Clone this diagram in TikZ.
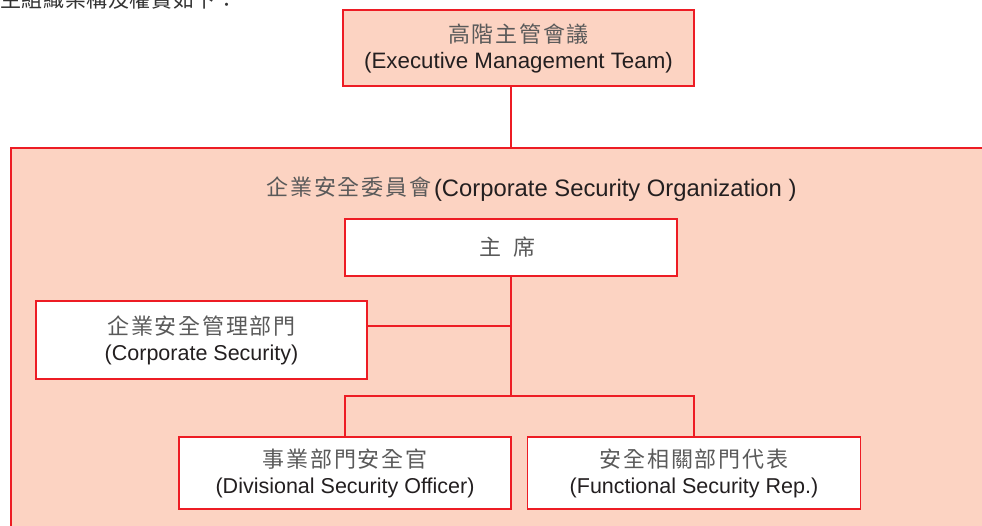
\documentclass[tikz,border=0pt]{standalone}
\usepackage{fontspec}
\setmainfont{Liberation Sans}
\newfontfamily\cjk[LetterSpace=8]{Noto Sans CJK TC}
\newfontfamily\cjkintro[LetterSpace=3]{Noto Sans CJK TC}
\definecolor{orgred}{HTML}{ED1C24}
\definecolor{orgfill}{HTML}{FCD3C2}
\definecolor{txt}{HTML}{231F20}
\definecolor{cjkgray}{HTML}{5A5A5A}
\newcommand{\zh}[1]{{\cjk\fontsize{22}{26}\selectfont\color{cjkgray}#1}}
\tikzset{
  orgbox/.style={draw=orgred, line width=1.8pt, inner sep=0pt, align=center,
    font=\fontsize{21.5}{26}\selectfont, text=txt},
  conn/.style={draw=orgred, line width=1.8pt},
}
\begin{document}
\begin{tikzpicture}[x=1pt,y=-1pt]
\useasboundingbox (0,0) rectangle (982,526);
\fill[white] (0,0) rectangle (982,526);
\clip (0,0) rectangle (982,526);
\node[anchor=base west, inner sep=0pt, text=black!80] (intro) at (0,8)
  {\cjkintro\fontsize{21}{24}\selectfont 主組織架構及權責如下：};
\node[orgbox, fill=orgfill, anchor=north west, minimum width=990pt, minimum height=400pt] (org) at (10,147) {};
\node[orgbox, fill=orgfill, minimum width=351pt, minimum height=76pt,
  font=\fontsize{22.3}{26}\selectfont] (top) at (518.5,48)
  {\zh{高階主管會議}\\(Executive Management Team)};
\node[inner sep=0pt, anchor=base, font=\fontsize{23.8}{26}\selectfont, text=txt] (title) at (531.5,197)
  {\raisebox{1.5pt}{\zh{企業安全委員會}}\hspace{3pt}(Corporate Security Organization )};
\node[orgbox, fill=white, minimum width=332pt, minimum height=57pt] (chair) at (511,247.5)
  {\zh{主\hspace{13pt}席\hspace{7pt}}};
\node[orgbox, fill=white, minimum width=331pt, minimum height=78pt] (corp) at (201.5,340)
  {\zh{企業安全管理部門}\\(Corporate Security)};
\node[orgbox, fill=white, minimum width=332pt, minimum height=72pt] (div) at (345,473)
  {\zh{事業部門安全官}\\(Divisional Security Officer)};
\node[orgbox, fill=white, minimum width=333pt, minimum height=72pt] (func) at (694,473)
  {\zh{安全相關部門代表}\\(Functional Security Rep.)};
\coordinate (cj) at (511,326);
\coordinate (bus) at (511,396);
\draw[conn] (chair.north |- top.south) -- (chair.north |- org.north);
\draw[conn] (chair.south) -- (bus);
\draw[conn] (corp.east |- cj) -- (cj);
\draw[conn] (div.north) -- (div.north |- bus) -- (func.north |- bus) -- (func.north);
\end{tikzpicture}
\end{document}
